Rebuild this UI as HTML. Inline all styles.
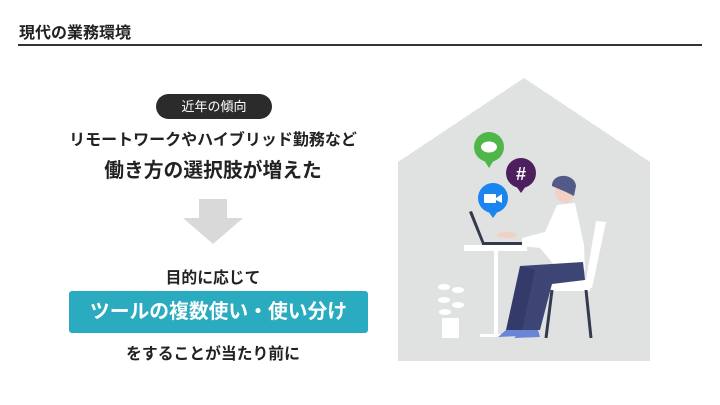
<!DOCTYPE html>
<html><head><meta charset="utf-8"><style>
body{margin:0;width:720px;height:405px;background:#fff;overflow:hidden;position:relative;font-family:"Liberation Sans","Noto Sans CJK JP",sans-serif;color:#333}
.a{position:absolute}
</style></head><body>
<div class="a" style="left:19px;top:19px;font-size:16px;font-weight:bold;color:#222">現代の業務環境</div>
<div class="a" style="left:18px;top:44px;width:684px;height:2px;background:#333"></div>
<div class="a" style="left:156px;top:94px;width:116px;height:25px;border-radius:13px;background:#2b2b2b;color:#fff;font-size:13px;line-height:25px;text-align:center">近年の傾向</div>
<div class="a" style="left:20px;top:126px;width:386px;text-align:center;font-size:16px;font-weight:bold;color:#222">リモートワークやハイブリッド勤務など</div>
<div class="a" style="left:20px;top:154px;width:386px;text-align:center;font-size:19.8px;font-weight:bold;color:#222">働き方の選択肢が増えた</div>
<svg class="a" style="left:0;top:0" width="720" height="405">
<rect x="199" y="199" width="28" height="19" fill="#d9d9d9"/>
<polygon points="183,218 243,218 213,244" fill="#d9d9d9"/>
</svg>
<div class="a" style="left:20px;top:265px;width:386px;text-align:center;font-size:15.8px;font-weight:bold;color:#222">目的に応じて</div>
<div class="a" style="left:69px;top:291px;width:299px;height:42px;background:#2aabbf;border-radius:3px;color:#fff;font-size:19.8px;font-weight:bold;line-height:42px;text-align:center">ツールの複数使い・使い分け</div>
<div class="a" style="left:20px;top:341px;width:386px;text-align:center;font-size:15.8px;font-weight:bold;color:#222">をすることが当たり前に</div>
<svg class="a" style="left:0;top:0" width="720" height="405">
<polygon points="398,162 524,78 650,162 650,361 398,361" fill="#e0e1e1"/>
<rect x="442" y="318" width="17" height="20" fill="#fff"/>
<g fill="#fff"><ellipse cx="444" cy="287" rx="6" ry="3"/><ellipse cx="458" cy="290" rx="6" ry="3"/><ellipse cx="444" cy="300" rx="6" ry="3"/><ellipse cx="458" cy="305" rx="6" ry="3"/><ellipse cx="445" cy="312" rx="6" ry="3"/></g>
<rect x="464" y="245" width="63" height="6" fill="#fff"/>
<rect x="494" y="251" width="4" height="85" fill="#fff"/>
<rect x="480" y="334" width="40" height="3" fill="#fff"/>
<polygon points="469,212 472,211 485,244 482,244" fill="#333a4d"/>
<rect x="482" y="242" width="45" height="3" fill="#333a4d"/>
<polygon points="596,221 606,222 592,288 560,290 548,289 548,283 586,280" fill="#fff"/>
<rect x="540" y="283" width="50" height="8" fill="#fff"/>
<line x1="552" y1="290" x2="546" y2="338" stroke="#333a4d" stroke-width="3"/>
<line x1="586" y1="290" x2="591" y2="338" stroke="#333a4d" stroke-width="3"/>
<polygon points="557,205 575,203 584,245 585,270 560,272 540,248 522,246 522,238 545,232" fill="#fff"/>
<path d="M520,266 L583,262 L585,280 L552,284 L540,330 L517,330 Z" fill="#3d4575"/>
<path d="M520,266 L535,270 L522,330 L506,330 Z" fill="#343b6b"/>
<path d="M506,330 L522,330 L524,336 L498,337 Z" fill="#6b85d6"/>
<path d="M522,330 L538,330 L540,337 L514,338 Z" fill="#6b85d6"/>
<ellipse cx="565" cy="190" rx="10" ry="13" fill="#f2d1c4"/>
<path d="M552,186 C552,172 575,173 576,186 L574,196 L566,192 Z" fill="#525a88"/>
<ellipse cx="507" cy="235" rx="10" ry="3" fill="#f2d1c4"/>
<circle cx="489" cy="147" r="15" fill="#4fb74a"/><polygon points="484,160 494,160 489,168" fill="#4fb74a"/>
<ellipse cx="489" cy="147" rx="8" ry="5.5" fill="#fff"/>
<circle cx="521" cy="173" r="15" fill="#4e1f5e"/><polygon points="516,186 526,186 521,193" fill="#4e1f5e"/>
<text x="521" y="180" fill="#fff" font-size="18" font-weight="bold" text-anchor="middle" font-family="Liberation Sans,sans-serif">#</text>
<circle cx="493" cy="198" r="15" fill="#1a84ef"/><polygon points="488,211 498,211 493,218" fill="#1a84ef"/>
<rect x="484" y="194" width="12" height="9" rx="1" fill="#fff"/><polygon points="496,198 502,194 502,203 496,200" fill="#fff"/>
</svg>
</body></html>
